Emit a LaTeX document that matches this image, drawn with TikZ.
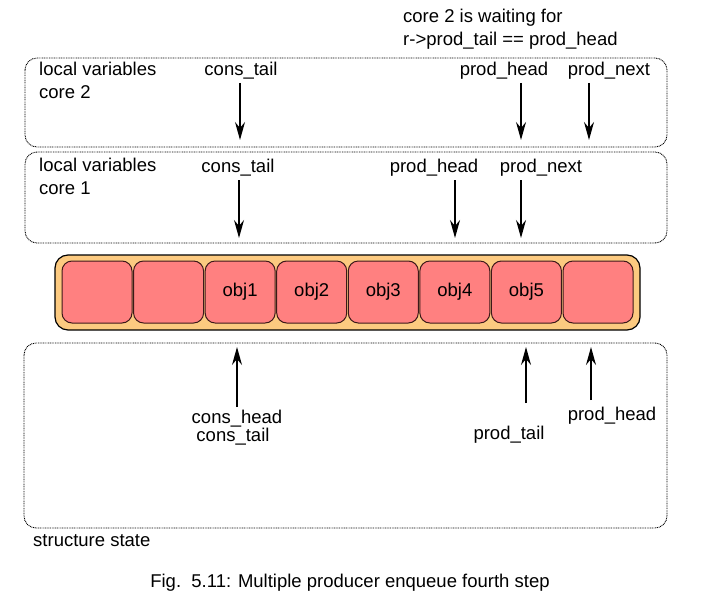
\documentclass[tikz,border=0pt]{standalone}
\usepackage{fontspec}
\setmainfont{Liberation Sans}
\usetikzlibrary{arrows.meta}
\definecolor{ringfill}{RGB}{252,202,128}
\definecolor{cellfill}{RGB}{255,128,128}
\definecolor{celldraw}{RGB}{60,25,25}
% a pointer arrow: name, x, tail y, tip y
\newcommand{\ptr}[4]{
   \coordinate (#1from) at (#2,#3);
   \coordinate (#1to) at (#2,#4);
   \draw[ptr] (#1from) -- (#1to);
}

\begin{document}
\begin{tikzpicture}[x=1pt, y=-1pt,
  txt/.style={font=\fontsize{18.5}{23}\selectfont, inner sep=0pt, anchor=base},
  varbox/.style={draw, line width=0.9pt, dash pattern=on 0.9pt off 0.8pt,
    rounded corners=12pt},
  ptr/.style={line width=1.4pt, -{Stealth[length=18pt,width=10pt,inset=6pt]}},
  cell/.style={draw=celldraw, fill=cellfill, line width=1pt,
    rounded corners=10pt, minimum width=70pt, minimum height=62pt,
    inner sep=0pt, font=\fontsize{18.5}{23}\selectfont}]
  \useasboundingbox (0,0) rectangle (708,607);

  % note above the boxes
  \node[txt, anchor=base west] (wait1) at (403,23) {core 2 is waiting for};
  \node[txt, anchor=base west] (wait2) at (403,46) {r->prod\_tail == prod\_head};

  % local variables of core 2
  \draw[varbox] (25,58) rectangle (667,147);
  \node[txt, anchor=base west] (lv2a) at (39,76) {local variables};
  \node[txt, anchor=base west] (lv2b) at (39,99) {core 2};
  \node[txt] (ctail2) at (241,76) {cons\_tail};
  \node[txt] (phead2) at (504,76) {prod\_head};
  \node[txt] (pnext2) at (609,76) {prod\_next};
  \ptr{ctailtwo}{240}{83}{140}
  \ptr{pheadtwo}{521}{83}{140}
  \ptr{pnexttwo}{589}{83}{140}

  % local variables of core 1
  \draw[varbox] (25,152) rectangle (667,243);
  \node[txt, anchor=base west] (lv1a) at (39,171) {local variables};
  \node[txt, anchor=base west] (lv1b) at (39,194) {core 1};
  \node[txt] (ctail1) at (238,172) {cons\_tail};
  \node[txt] (phead1) at (434,172) {prod\_head};
  \node[txt] (pnext1) at (541,172) {prod\_next};
  \ptr{ctailone}{239}{180}{238}
  \ptr{pheadone}{455}{180}{238}
  \ptr{pnextone}{521}{180}{238}

  % the ring
  \draw[fill=ringfill, line width=1.2pt, rounded corners=13pt]
    (55,255) rectangle (640,330);
  \foreach \i/\t in {0/{},1/{},2/obj1,3/obj2,4/obj3,5/obj4,6/obj5,7/{}}
  {
     \node[cell] (cell\i) at (97+71.57*\i,292) {\t};
  }

  % structure state
  \draw[varbox] (24,343) rectangle (667,528);
  \node[txt, anchor=base west] (state) at (33,546) {structure state};
  \node[txt] (chead) at (237,423) {cons\_head};
  \node[txt] (ctail) at (233,441) {cons\_tail};
  \node[txt] (ptail) at (509,439) {prod\_tail};
  \node[txt] (phead) at (612,420) {prod\_head};
  \ptr{cheadst}{237}{407}{347}
  \ptr{ptailst}{526}{403}{347}
  \ptr{pheadst}{591}{400}{347}

  % caption
  \node[txt] (caption) at (350,587) {Fig.\ \ 5.11: Multiple producer enqueue fourth step};
\end{tikzpicture}
\end{document}
